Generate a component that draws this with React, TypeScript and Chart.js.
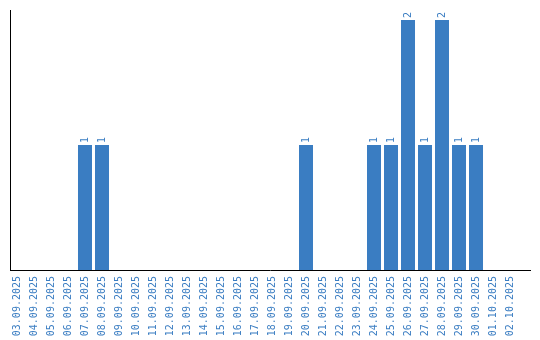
import React, { useEffect, useRef } from "react";
import { Chart, registerables } from "chart.js";

Chart.register(...registerables);

const categories: string[] = [
  "03.09.2025", "04.09.2025", "05.09.2025", "06.09.2025", "07.09.2025",
  "08.09.2025", "09.09.2025", "10.09.2025", "11.09.2025", "12.09.2025",
  "13.09.2025", "14.09.2025", "15.09.2025", "16.09.2025", "17.09.2025",
  "18.09.2025", "19.09.2025", "20.09.2025", "21.09.2025", "22.09.2025",
  "23.09.2025", "24.09.2025", "25.09.2025", "26.09.2025", "27.09.2025",
  "28.09.2025", "29.09.2025", "30.09.2025", "01.10.2025", "02.10.2025",
];

const counts: number[] = [
  0, 0, 0, 0, 1,
  1, 0, 0, 0, 0,
  0, 0, 0, 0, 0,
  0, 0, 1, 0, 0,
  0, 1, 1, 2, 1,
  2, 1, 1, 0, 0,
];

const BLUE = "#3a7dc2";
const FONT = "'DejaVu Sans Mono', monospace";

const valueLabels = {
  id: "valueLabels",
  afterDatasetsDraw(chart: any) {
    const ctx = chart.ctx;
    const meta = chart.getDatasetMeta(0);
    ctx.save();
    ctx.fillStyle = BLUE;
    ctx.font = `10px ${FONT}`;
    ctx.textAlign = "left";
    ctx.textBaseline = "middle";
    meta.data.forEach((bar: any, i: number) => {
      const v = counts[i];
      if (!v) return;
      ctx.save();
      ctx.translate(bar.x, bar.y - 2);
      ctx.rotate(-Math.PI / 2);
      ctx.fillText(String(v), 0, 0);
      ctx.restore();
    });
    ctx.restore();
  },
};

export default function App() {
  const ref = useRef<HTMLCanvasElement | null>(null);

  useEffect(() => {
    if (!ref.current) return;
    const chart = new Chart(ref.current, {
      type: "bar",
      data: {
        datasets: [
          {
            data: counts.map((y, i) => ({ x: i, y })),
            backgroundColor: BLUE,
            borderWidth: 0,
            categoryPercentage: 1,
            barPercentage: 14 / 17,
          },
        ],
      },
      options: {
        animation: false,
        responsive: false,
        maintainAspectRatio: false,
        layout: { padding: { left: 10.5, top: 10, right: 10, bottom: 0 } },
        plugins: {
          legend: { display: false },
          tooltip: { enabled: false },
          title: { display: false },
        },
        scales: {
          x: {
            type: "linear",
            offset: false,
            min: -0.382,
            max: 30.176,
            grid: { display: false, drawTicks: false, offset: false },
            border: { display: true, color: "#000", width: 1 },
            afterFit: (s: any) => {
              s.height = 70;
              s.paddingLeft = 0;
              s.paddingRight = 0;
            },
            ticks: {
              stepSize: 1,
              autoSkip: false,
              maxTicksLimit: 100,
              includeBounds: false,
              minRotation: 90,
              maxRotation: 90,
              padding: 6,
              color: BLUE,
              font: { family: FONT, size: 10 },
              callback: (v: any) =>
                Number.isInteger(v) && categories[v] ? categories[v] : "",
            },
          },
          y: {
            min: 0,
            max: 2.08,
            grid: { display: false, drawTicks: false },
            border: { display: true, color: "#000", width: 1 },
            ticks: { display: false },
            afterFit: (s: any) => {
              s.width = 0;
            },
          },
        },
      },
      plugins: [valueLabels],
    } as any);
    return () => chart.destroy();
  }, []);

  return (
    <div style={{ position: "fixed", left: 0, top: 0, width: 540, height: 340, background: "#fff" }}>
      <canvas ref={ref} width={540} height={340} style={{ display: "block" }} />
    </div>
  );
}
